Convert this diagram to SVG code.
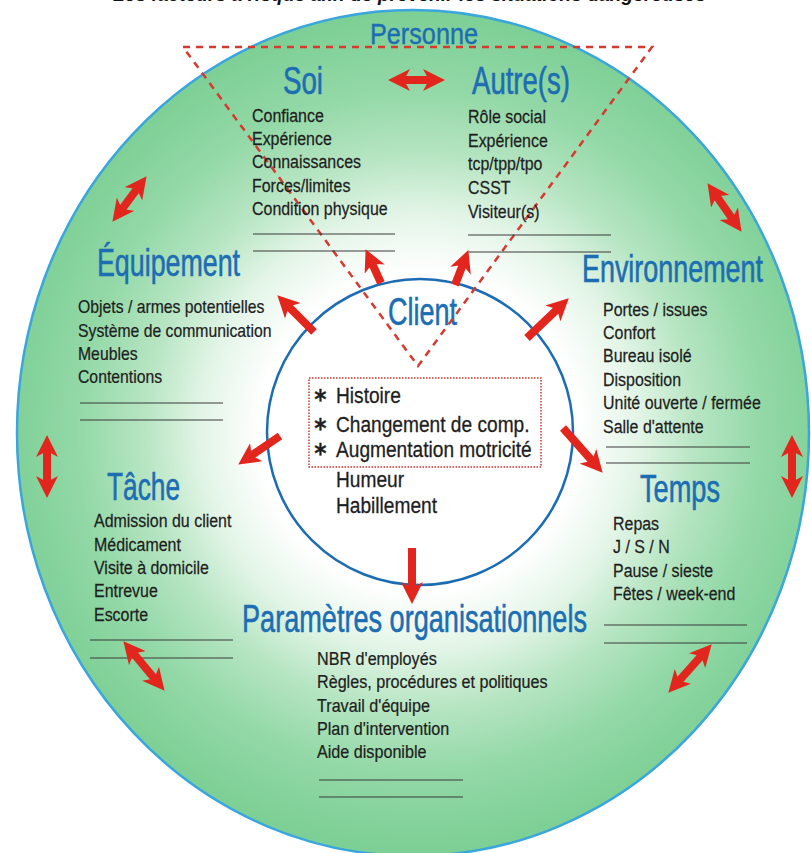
<svg xmlns="http://www.w3.org/2000/svg" width="811" height="853" viewBox="0 0 811 853">
<style>
text{font-family:"Liberation Sans",Arial,sans-serif}
.h{fill:#1d6db3;font-size:39px;stroke:#1d6db3;stroke-width:0.6}
.t{fill:#1e1e1e;font-size:19px;stroke:#1e1e1e;stroke-width:0.25}
.c{fill:#1e1e1e;font-size:22px;stroke:#1e1e1e;stroke-width:0.3}
.star{font-family:"DejaVu Sans",sans-serif;font-size:27px;font-weight:bold}
.rule{stroke:#3a3a3a;stroke-width:1.2}
.arr{stroke:#e3261d;stroke-width:8;fill:none;marker-end:url(#ah)}
.dbl{stroke:#e3261d;stroke-width:8;fill:none;marker-start:url(#ah);marker-end:url(#ah)}
</style>
<defs>
<radialGradient id="bg" gradientUnits="userSpaceOnUse" cx="420" cy="432" r="420">
<stop offset="0" stop-color="#ffffff"/>
<stop offset="0.38" stop-color="#ffffff"/>
<stop offset="0.52" stop-color="#e3f5e7"/>
<stop offset="0.66" stop-color="#b6e5c2"/>
<stop offset="0.82" stop-color="#92d8a6"/>
<stop offset="1" stop-color="#7ccf95"/>
</radialGradient>
<marker id="ah" viewBox="0 0 22 22" refX="7" refY="11" markerWidth="22" markerHeight="22" markerUnits="userSpaceOnUse" orient="auto-start-reverse">
<path d="M0,0 L22,11 L0,22 L6,11 z" fill="#e3261d"/>
</marker>
</defs>
<rect width="811" height="853" fill="#ffffff"/>
<text x="113" y="1" textLength="593" lengthAdjust="spacingAndGlyphs" font-size="20" font-weight="bold" font-style="italic" fill="#111">Les facteurs à risque afin de prévenir les situations dangereuses</text>

<g id="disc">
<ellipse cx="413" cy="433" rx="396" ry="423" fill="url(#bg)" stroke="#3aa6dc" stroke-width="2.5"/>
</g>

<g id="client">
<circle cx="420" cy="432" r="153" fill="#ffffff" stroke="#1c6cb5" stroke-width="2.5"/>
<text class="h" x="388" y="325" textLength="69" lengthAdjust="spacingAndGlyphs">Client</text>
<rect x="309" y="378" width="232" height="89" fill="none" stroke="#c8342c" stroke-width="1.5" stroke-dasharray="1.5 1.5"/>
<text class="c" transform="translate(336,403) scale(0.87,1)"><tspan class="star" x="-25" dy="6">*</tspan><tspan x="0" dy="-6">Histoire</tspan></text>
<text class="c" transform="translate(336,432) scale(0.87,1)"><tspan class="star" x="-25" dy="6">*</tspan><tspan x="0" dy="-6">Changement de comp.</tspan></text>
<text class="c" transform="translate(336,457) scale(0.87,1)"><tspan class="star" x="-25" dy="6">*</tspan><tspan x="0" dy="-6">Augmentation motricité</tspan></text>
<g transform="translate(336,0) scale(0.87,1)">
<text class="c" x="0" y="487">Humeur</text>
<text class="c" x="0" y="513">Habillement</text>
</g>
</g>

<g id="personne">
<polyline points="183,47 652,47 418,366 183,47" fill="none" stroke="#d43a2f" stroke-width="2.5" stroke-dasharray="7 6"/>
<text class="h" x="370" y="44" style="font-size:30px;stroke-width:0.4" textLength="108" lengthAdjust="spacingAndGlyphs">Personne</text>
</g>

<g id="soi">
<text class="h" x="283" y="94" textLength="40" lengthAdjust="spacingAndGlyphs">Soi</text>
<g transform="translate(252,0) scale(0.84,1)">
<text class="t" x="0" y="122">Confiance</text>
<text class="t" x="0" y="145">Expérience</text>
<text class="t" x="0" y="168">Connaissances</text>
<text class="t" x="0" y="192">Forces/limites</text>
<text class="t" x="0" y="215">Condition physique</text>
</g>
<line class="rule" x1="253" y1="234" x2="395" y2="234"/>
<line class="rule" x1="253" y1="251" x2="395" y2="251"/>
</g>

<g id="autres">
<text class="h" x="472" y="94" textLength="98" lengthAdjust="spacingAndGlyphs">Autre(s)</text>
<g transform="translate(468,0) scale(0.84,1)">
<text class="t" x="0" y="123">Rôle social</text>
<text class="t" x="0" y="147">Expérience</text>
<text class="t" x="0" y="170">tcp/tpp/tpo</text>
<text class="t" x="0" y="194">CSST</text>
<text class="t" x="0" y="218">Visiteur(s)</text>
</g>
<line class="rule" x1="468" y1="235" x2="611" y2="235"/>
<line class="rule" x1="468" y1="252" x2="611" y2="252"/>
</g>

<g id="equipement">
<text class="h" x="97" y="276" textLength="143" lengthAdjust="spacingAndGlyphs">Équipement</text>
<g transform="translate(78,0) scale(0.83,1)">
<text class="t" x="0" y="313">Objets / armes potentielles</text>
<text class="t" x="0" y="337">Système de communication</text>
<text class="t" x="0" y="360">Meubles</text>
<text class="t" x="0" y="383">Contentions</text>
</g>
<line class="rule" x1="80" y1="403" x2="223" y2="403"/>
<line class="rule" x1="80" y1="420" x2="223" y2="420"/>
</g>

<g id="environnement">
<text class="h" x="582" y="282" textLength="181" lengthAdjust="spacingAndGlyphs">Environnement</text>
<g transform="translate(603,0) scale(0.84,1)">
<text class="t" x="0" y="316">Portes / issues</text>
<text class="t" x="0" y="339">Confort</text>
<text class="t" x="0" y="362">Bureau isolé</text>
<text class="t" x="0" y="386">Disposition</text>
<text class="t" x="0" y="409">Unité ouverte / fermée</text>
<text class="t" x="0" y="433">Salle d'attente</text>
</g>
<line class="rule" x1="606" y1="447" x2="750" y2="447"/>
<line class="rule" x1="606" y1="463" x2="750" y2="463"/>
</g>

<g id="tache">
<text class="h" x="107" y="500" textLength="73" lengthAdjust="spacingAndGlyphs">Tâche</text>
<g transform="translate(94,0) scale(0.84,1)">
<text class="t" x="0" y="527">Admission du client</text>
<text class="t" x="0" y="551">Médicament</text>
<text class="t" x="0" y="574">Visite à domicile</text>
<text class="t" x="0" y="597">Entrevue</text>
<text class="t" x="0" y="621">Escorte</text>
</g>
<line class="rule" x1="90" y1="640" x2="233" y2="640"/>
<line class="rule" x1="90" y1="658" x2="233" y2="658"/>
</g>

<g id="temps">
<text class="h" x="640" y="502" textLength="80" lengthAdjust="spacingAndGlyphs">Temps</text>
<g transform="translate(613,0) scale(0.84,1)">
<text class="t" x="0" y="530">Repas</text>
<text class="t" x="0" y="553">J / S / N</text>
<text class="t" x="0" y="577">Pause / sieste</text>
<text class="t" x="0" y="600">Fêtes / week-end</text>
</g>
<line class="rule" x1="604" y1="625" x2="747" y2="625"/>
<line class="rule" x1="604" y1="643" x2="747" y2="643"/>
</g>

<g id="parametres">
<text class="h" x="242" y="632" textLength="345" lengthAdjust="spacingAndGlyphs">Paramètres organisationnels</text>
<g transform="translate(317,0) scale(0.85,1)">
<text class="t" x="0" y="665">NBR d'employés</text>
<text class="t" x="0" y="688">Règles, procédures et politiques</text>
<text class="t" x="0" y="712">Travail d'équipe</text>
<text class="t" x="0" y="735">Plan d'intervention</text>
<text class="t" x="0" y="758">Aide disponible</text>
</g>
<line class="rule" x1="319" y1="780" x2="463" y2="780"/>
<line class="rule" x1="319" y1="797" x2="463" y2="797"/>
</g>

<g id="connectors">
<line class="arr" x1="381" y1="283" x2="371.8" y2="262.8"/>
<line class="arr" x1="455" y1="285" x2="463" y2="264.1"/>
<line class="arr" x1="314" y1="332" x2="287.9" y2="305.9"/>
<line class="arr" x1="527" y1="338" x2="557.9" y2="308.6"/>
<line class="arr" x1="280" y1="436" x2="250.6" y2="456.1"/>
<line class="arr" x1="563" y1="428" x2="592.7" y2="461.5"/>
<line class="arr" x1="412" y1="548" x2="412" y2="589"/>
<line class="dbl" x1="403" y1="80" x2="430" y2="80"/>
<line class="dbl" x1="121.4" y1="209.8" x2="137.6" y2="188.2"/>
<line class="dbl" x1="716.1" y1="195.5" x2="732.9" y2="219.5"/>
<line class="dbl" x1="47" y1="450" x2="47" y2="483"/>
<line class="dbl" x1="792" y1="450" x2="792" y2="483"/>
<line class="dbl" x1="133" y1="652.8" x2="155" y2="679.2"/>
<line class="dbl" x1="678.3" y1="681.6" x2="701.7" y2="655.4"/>
</g>
</svg>
